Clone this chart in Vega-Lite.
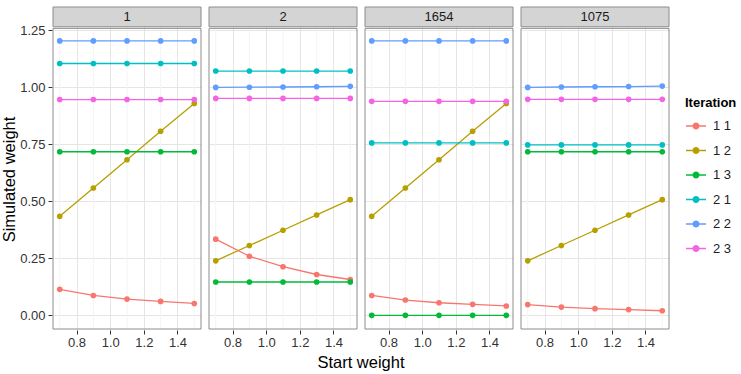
{
  "$schema": "https://vega.github.io/schema/vega-lite/v6.json",
  "padding": {"left": 1, "top": 6, "right": 5, "bottom": 0},
  "config": {"font": "Liberation Sans", "view": {"stroke": null}},
  "data": {"values": [
    {"p":"1","it":"1 1","x":0.7,"y":0.114},{"p":"1","it":"1 1","x":0.9,"y":0.087},{"p":"1","it":"1 1","x":1.1,"y":0.071},{"p":"1","it":"1 1","x":1.3,"y":0.061},{"p":"1","it":"1 1","x":1.5,"y":0.052},
    {"p":"1","it":"1 2","x":0.7,"y":0.434},{"p":"1","it":"1 2","x":0.9,"y":0.558},{"p":"1","it":"1 2","x":1.1,"y":0.682},{"p":"1","it":"1 2","x":1.3,"y":0.807},{"p":"1","it":"1 2","x":1.5,"y":0.929},
    {"p":"1","it":"1 3","x":0.7,"y":0.717},{"p":"1","it":"1 3","x":0.9,"y":0.717},{"p":"1","it":"1 3","x":1.1,"y":0.717},{"p":"1","it":"1 3","x":1.3,"y":0.717},{"p":"1","it":"1 3","x":1.5,"y":0.717},
    {"p":"1","it":"2 1","x":0.7,"y":1.104},{"p":"1","it":"2 1","x":0.9,"y":1.104},{"p":"1","it":"2 1","x":1.1,"y":1.104},{"p":"1","it":"2 1","x":1.3,"y":1.104},{"p":"1","it":"2 1","x":1.5,"y":1.104},
    {"p":"1","it":"2 2","x":0.7,"y":1.203},{"p":"1","it":"2 2","x":0.9,"y":1.203},{"p":"1","it":"2 2","x":1.1,"y":1.203},{"p":"1","it":"2 2","x":1.3,"y":1.203},{"p":"1","it":"2 2","x":1.5,"y":1.203},
    {"p":"1","it":"2 3","x":0.7,"y":0.946},{"p":"1","it":"2 3","x":0.9,"y":0.946},{"p":"1","it":"2 3","x":1.1,"y":0.946},{"p":"1","it":"2 3","x":1.3,"y":0.946},{"p":"1","it":"2 3","x":1.5,"y":0.946},

    {"p":"2","it":"1 1","x":0.7,"y":0.334},{"p":"2","it":"1 1","x":0.9,"y":0.259},{"p":"2","it":"1 1","x":1.1,"y":0.213},{"p":"2","it":"1 1","x":1.3,"y":0.179},{"p":"2","it":"1 1","x":1.5,"y":0.157},
    {"p":"2","it":"1 2","x":0.7,"y":0.239},{"p":"2","it":"1 2","x":0.9,"y":0.306},{"p":"2","it":"1 2","x":1.1,"y":0.373},{"p":"2","it":"1 2","x":1.3,"y":0.440},{"p":"2","it":"1 2","x":1.5,"y":0.507},
    {"p":"2","it":"1 3","x":0.7,"y":0.146},{"p":"2","it":"1 3","x":0.9,"y":0.146},{"p":"2","it":"1 3","x":1.1,"y":0.146},{"p":"2","it":"1 3","x":1.3,"y":0.146},{"p":"2","it":"1 3","x":1.5,"y":0.146},
    {"p":"2","it":"2 1","x":0.7,"y":1.071},{"p":"2","it":"2 1","x":0.9,"y":1.071},{"p":"2","it":"2 1","x":1.1,"y":1.071},{"p":"2","it":"2 1","x":1.3,"y":1.071},{"p":"2","it":"2 1","x":1.5,"y":1.071},
    {"p":"2","it":"2 2","x":0.7,"y":0.999},{"p":"2","it":"2 2","x":0.9,"y":1.000},{"p":"2","it":"2 2","x":1.1,"y":1.001},{"p":"2","it":"2 2","x":1.3,"y":1.002},{"p":"2","it":"2 2","x":1.5,"y":1.004},
    {"p":"2","it":"2 3","x":0.7,"y":0.951},{"p":"2","it":"2 3","x":0.9,"y":0.951},{"p":"2","it":"2 3","x":1.1,"y":0.951},{"p":"2","it":"2 3","x":1.3,"y":0.951},{"p":"2","it":"2 3","x":1.5,"y":0.951},

    {"p":"1654","it":"1 1","x":0.7,"y":0.087},{"p":"1654","it":"1 1","x":0.9,"y":0.067},{"p":"1654","it":"1 1","x":1.1,"y":0.055},{"p":"1654","it":"1 1","x":1.3,"y":0.048},{"p":"1654","it":"1 1","x":1.5,"y":0.041},
    {"p":"1654","it":"1 2","x":0.7,"y":0.434},{"p":"1654","it":"1 2","x":0.9,"y":0.558},{"p":"1654","it":"1 2","x":1.1,"y":0.682},{"p":"1654","it":"1 2","x":1.3,"y":0.807},{"p":"1654","it":"1 2","x":1.5,"y":0.929},
    {"p":"1654","it":"1 3","x":0.7,"y":0.0},{"p":"1654","it":"1 3","x":0.9,"y":0.0},{"p":"1654","it":"1 3","x":1.1,"y":0.0},{"p":"1654","it":"1 3","x":1.3,"y":0.0},{"p":"1654","it":"1 3","x":1.5,"y":0.0},
    {"p":"1654","it":"2 1","x":0.7,"y":0.756},{"p":"1654","it":"2 1","x":0.9,"y":0.756},{"p":"1654","it":"2 1","x":1.1,"y":0.756},{"p":"1654","it":"2 1","x":1.3,"y":0.756},{"p":"1654","it":"2 1","x":1.5,"y":0.756},
    {"p":"1654","it":"2 2","x":0.7,"y":1.203},{"p":"1654","it":"2 2","x":0.9,"y":1.203},{"p":"1654","it":"2 2","x":1.1,"y":1.203},{"p":"1654","it":"2 2","x":1.3,"y":1.203},{"p":"1654","it":"2 2","x":1.5,"y":1.203},
    {"p":"1654","it":"2 3","x":0.7,"y":0.938},{"p":"1654","it":"2 3","x":0.9,"y":0.938},{"p":"1654","it":"2 3","x":1.1,"y":0.938},{"p":"1654","it":"2 3","x":1.3,"y":0.938},{"p":"1654","it":"2 3","x":1.5,"y":0.938},

    {"p":"1075","it":"1 1","x":0.7,"y":0.047},{"p":"1075","it":"1 1","x":0.9,"y":0.036},{"p":"1075","it":"1 1","x":1.1,"y":0.029},{"p":"1075","it":"1 1","x":1.3,"y":0.025},{"p":"1075","it":"1 1","x":1.5,"y":0.020},
    {"p":"1075","it":"1 2","x":0.7,"y":0.239},{"p":"1075","it":"1 2","x":0.9,"y":0.306},{"p":"1075","it":"1 2","x":1.1,"y":0.373},{"p":"1075","it":"1 2","x":1.3,"y":0.440},{"p":"1075","it":"1 2","x":1.5,"y":0.507},
    {"p":"1075","it":"1 3","x":0.7,"y":0.717},{"p":"1075","it":"1 3","x":0.9,"y":0.717},{"p":"1075","it":"1 3","x":1.1,"y":0.717},{"p":"1075","it":"1 3","x":1.3,"y":0.717},{"p":"1075","it":"1 3","x":1.5,"y":0.717},
    {"p":"1075","it":"2 1","x":0.7,"y":0.747},{"p":"1075","it":"2 1","x":0.9,"y":0.747},{"p":"1075","it":"2 1","x":1.1,"y":0.747},{"p":"1075","it":"2 1","x":1.3,"y":0.747},{"p":"1075","it":"2 1","x":1.5,"y":0.747},
    {"p":"1075","it":"2 2","x":0.7,"y":0.999},{"p":"1075","it":"2 2","x":0.9,"y":1.001},{"p":"1075","it":"2 2","x":1.1,"y":1.002},{"p":"1075","it":"2 2","x":1.3,"y":1.003},{"p":"1075","it":"2 2","x":1.5,"y":1.005},
    {"p":"1075","it":"2 3","x":0.7,"y":0.947},{"p":"1075","it":"2 3","x":0.9,"y":0.947},{"p":"1075","it":"2 3","x":1.1,"y":0.947},{"p":"1075","it":"2 3","x":1.3,"y":0.947},{"p":"1075","it":"2 3","x":1.5,"y":0.947}
  ]},
  "facet": {"column": {"field": "p", "type": "nominal", "sort": ["1","2","1654","1075"],
    "header": {"labels": false, "title": "Start weight", "titleOrient": "bottom", "titleFontSize": 16.5, "titleFontWeight": "normal", "titleColor": "black", "titlePadding": -4, "titleFont": "Liberation Sans"}}},
  "spacing": 6,
  "spec": {
    "width": 148, "height": 322,
    "layer": [
      {
        "transform": [{"filter": "datum.it == '1 1'"}],
        "mark": {"type": "rule", "color": "#F4F4F4", "strokeWidth": 1},
        "encoding": {"x": {"field": "x", "type": "quantitative"}}
      },
      {
        "mark": {"type": "line", "strokeWidth": 1.3},
        "encoding": {
          "x": {"field": "x", "type": "quantitative", "scale": {"domain": [0.66, 1.54], "nice": false, "zero": false},
            "axis": {"title": null, "values": [0.8,1.0,1.2,1.4], "format": ".1f", "domain": false,
              "labelFontSize": 13, "labelColor": "#333333", "labelFlush": false, "labelPadding": 2,
              "tickColor": "#333333", "tickSize": 4, "gridColor": "#E5E5E5"}},
          "y": {"field": "y", "type": "quantitative", "scale": {"domain": [-0.06, 1.3517], "nice": false, "zero": false},
            "axis": {"title": "Simulated weight", "values": [0,0.125,0.25,0.375,0.5,0.625,0.75,0.875,1.0,1.125,1.25], "domain": false,
              "labelExpr": "round(datum.value*8) % 2 == 0 ? format(datum.value, '.2f') : ''",
              "labelFontSize": 13, "labelColor": "#333333", "labelOverlap": false, "labelFlush": false, "labelPadding": 3,
              "tickColor": "#333333", "tickSize": 4,
              "tickOpacity": {"condition": {"test": "round(datum.value*8) % 2 == 0", "value": 1}, "value": 0},
              "gridColor": {"condition": {"test": "round(datum.value*8) % 2 == 0", "value": "#E5E5E5"}, "value": "#F4F4F4"},
              "titleFontSize": 16.5, "titleFontWeight": "normal", "titleColor": "black", "titlePadding": 2, "titleY": 172}},
          "color": {"field": "it", "type": "nominal", "title": "Iteration",
            "scale": {"domain": ["1 1","1 2","1 3","2 1","2 2","2 3"], "range": ["#F8766D","#B79F00","#00BA38","#00BFC4","#619CFF","#F564E3"]},
            "legend": {"orient": "none", "legendX": 632, "legendY": 90,
              "symbolType": "M-1,0H-0.28M0.28,0H1M-0.28,0A0.28,0.28 0 1,1 0.28,0A0.28,0.28 0 1,1 -0.28,0Z",
              "symbolSize": 400, "symbolStrokeWidth": 1.3, "rowPadding": 6.5, "labelOffset": 6,
              "titleFontSize": 13, "titleFontWeight": "bold", "titleColor": "black", "titlePadding": 5,
              "labelFontSize": 13, "labelColor": "#222222",
              "encode": {"symbols": {"update": {"fill": {"scale": "color", "field": "value"}, "stroke": {"scale": "color", "field": "value"}, "opacity": {"value": 1}}}}}},
          "detail": {"field": "it"}
        }
      },
      {
        "mark": {"type": "point", "filled": true, "size": 32, "opacity": 1},
        "encoding": {
          "x": {"field": "x", "type": "quantitative"},
          "y": {"field": "y", "type": "quantitative"},
          "color": {"field": "it", "type": "nominal"}
        }
      },
      {
        "transform": [{"filter": "datum.x == 0.7 && datum.it == '1 1'"}],
        "mark": {"type": "rect", "fill": "#D4D4D4", "stroke": "#8C8C8C", "strokeWidth": 1},
        "encoding": {
          "x": {"datum": 0.66}, "x2": {"datum": 1.54},
          "y": {"datum": 1.265}, "y2": {"datum": 1.3517}
        }
      },
      {
        "transform": [{"filter": "datum.x == 0.7 && datum.it == '1 1'"}],
        "mark": {"type": "text", "fontSize": 13, "color": "#1A1A1A", "baseline": "middle", "align": "center"},
        "encoding": {
          "x": {"datum": 1.1},
          "y": {"datum": 1.308},
          "text": {"field": "p"}
        }
      },
      {
        "transform": [{"filter": "datum.x == 0.7 && datum.it == '1 1'"}],
        "mark": {"type": "rect", "fill": null, "fillOpacity": 0, "stroke": "#8C8C8C", "strokeWidth": 1},
        "encoding": {
          "x": {"datum": 0.66}, "x2": {"datum": 1.54},
          "y": {"datum": -0.06}, "y2": {"datum": 1.258}
        }
      }
    ]
  }
}
